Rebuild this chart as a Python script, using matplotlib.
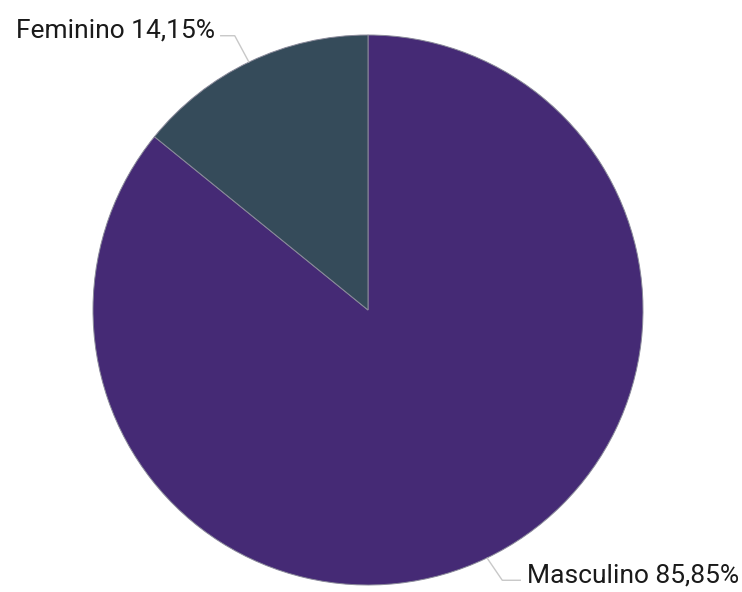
import numpy as np
import matplotlib.pyplot as plt

# data
labels = ['Masculino', 'Feminino']
values = [85.85, 14.15]
colors = ['#452a75', '#354b5a']

W, H = 742, 592
plt.rcParams['font.family'] = ['Roboto', 'DejaVu Sans']

fig = plt.figure(figsize=(W / 100, H / 100), dpi=100)
ax = fig.add_axes([0, 0, 1, 1])

cx, cy, r = 368, H - 310, 275
wedges, _ = ax.pie(values, colors=colors, startangle=90, counterclock=False,
                   center=(cx, cy), radius=r, frame=True,
                   wedgeprops=dict(edgecolor='#8a8a9a', linewidth=0.7))
ax.set_xlim(0, W)
ax.set_ylim(0, H)
ax.axis('off')

# leader lines + labels
# (elbow offset, horizontal run, alignment)
label_pos = {
    'Feminino': ((-15, 26), -14, 'right'),
    'Masculino': ((16, -22), 18, 'left'),
}
for w, lab, v in zip(wedges, labels, values):
    ang = np.deg2rad((w.theta1 + w.theta2) / 2)
    x0 = cx + r * np.cos(ang)
    y0 = cy + r * np.sin(ang)
    (dx, dy), hx, ha = label_pos[lab]
    x1, y1 = x0 + dx, y0 + dy
    x2 = x1 + hx
    ax.plot([x0 + np.sign(dx) * 1, x1, x2], [y0, y1, y1], color='#c8c8c8', lw=1)
    txt = f'{lab} {v:.2f}%'.replace('.', ',')
    tx = x2 - 6 if ha == 'right' else x2 + 7
    ax.text(tx, y1 + 5, txt, ha=ha, va='center', fontsize=19, color='#1a1a1a')

fig.savefig('out.png', dpi=100, facecolor='white')
